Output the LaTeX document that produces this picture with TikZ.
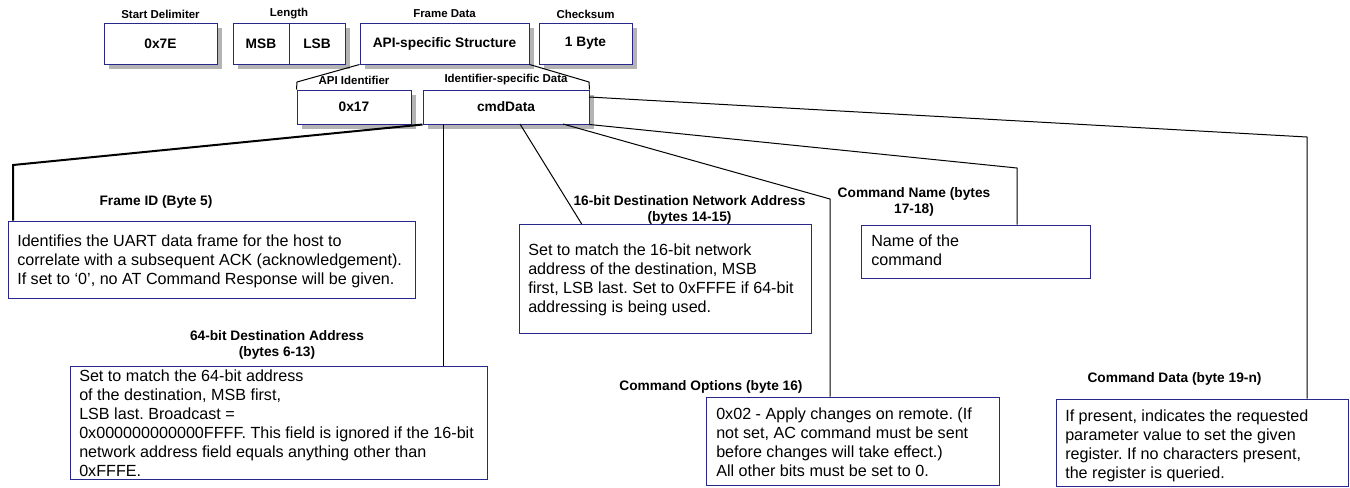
\documentclass[tikz,border=0pt]{standalone}
\usepackage{fontspec}
\setmainfont{Liberation Sans}
\usetikzlibrary{fit}
\definecolor{boxblue}{RGB}{40,40,140}
\definecolor{shadowgray}{RGB}{180,180,180}
\begin{document}
\frenchspacing
\begin{tikzpicture}[x=0.75pt,y=-0.75pt,
  topbox/.style={draw=boxblue, fill=white, line width=0.75pt, inner sep=0pt},
  shadowbox/.style={fill=shadowgray, draw=none, inner sep=0pt},
  boxtext/.style={font=\bfseries\fontsize{10.3}{12}\selectfont, inner sep=0pt},
  toplabel/.style={font=\bfseries\fontsize{8.6}{10}\selectfont, inner sep=0pt},
  desclabel/.style={font=\bfseries\fontsize{10.3}{12}\selectfont, align=center, inner sep=0pt},
  descbox/.style={draw=boxblue, line width=0.75pt, inner sep=0pt},
  desctext/.style={font=\fontsize{12.1}{14.25}\selectfont, align=left, anchor=north west, inner sep=0pt},
  conn/.style={line width=0.75pt},
  thickconn/.style={line width=1.5pt}
]
\useasboundingbox (0,0) rectangle (1350,487);

% shadows of the field boxes (drawn first, boxes cover them)
\node[shadowbox, fit={(109,28) (222,69)}] (sdsh) {};
\node[shadowbox, fit={(238,28) (350,69)}] (lensh) {};
\node[shadowbox, fit={(365,28) (534,69)}] (apish) {};
\node[shadowbox, fit={(544,28) (637,69)}] (cssh) {};
\node[shadowbox, fit={(302,95) (416,129)}] (idsh) {};
\node[shadowbox, fit={(428,95) (594,129)}] (cmdsh) {};

% top row
\node[topbox, fit={(104,23) (217,64)}] (sd) {};
\node[boxtext] (sdt) at (sd.center) {0x7E};
\node[topbox, fit={(233,23) (289,64)}] (msb) {};
\node[topbox, fit={(289,23) (345,64)}] (lsb) {};
\node[boxtext] (msbt) at (msb.center) {MSB};
\node[boxtext] (lsbt) at (lsb.center) {LSB};
\node[topbox, fit={(360,23) (529,64)}] (api) {};
\node[boxtext] (apit) at (api.center) {API-specific Structure};
\node[topbox, fit={(539,23) (632,64)}] (cs) {};
\node[boxtext] (cst) at (cs.center) {1 Byte};

\node[toplabel] (lsd) at (160.5,14) {Start Delimiter};
\node[toplabel] (llen) at (289,14) {Length};
\node[toplabel] (lfd) at (444.5,14) {Frame Data};
\node[toplabel] (lcs) at (585.5,14) {Checksum};

% second row
\node[topbox, fit={(297,90) (411,124)}] (id) {};
\node[boxtext] (idt) at (id.center) {0x17};
\node[topbox, fit={(423,90) (589,124)}] (cmd) {};
\node[boxtext] (cmdt) at (cmd.center) {cmdData};
\node[toplabel] (lid) at (354,80) {API Identifier};
\node[toplabel] (lisd) at (506,80) {Identifier-specific Data};

\coordinate (brl) at (297,82);
\coordinate (brr) at (589,82);
\draw[conn] (api.south west) -- (brl) -- (id.north west);
\draw[conn] (api.south east) -- (brr) -- (cmd.north east);

% description boxes
\node[descbox, fit={(8,221) (415,298)}] (fid) {};
\node[desctext] (fidt) at (17,235) {Identifies the UART data frame for the host to\\correlate with a subsequent ACK (acknowledgement).\\If set to ‘0’, no AT Command Response will be given.};
\node[desclabel] (lfid) at (156,202) {Frame ID (Byte 5)};

\node[descbox, fit={(70,366) (487,479)}] (d64) {};
\node[desctext] (d64t) at (79,370) {Set to match the 64-bit address\\of the destination, MSB first,\\LSB last. Broadcast =\\0x000000000000FFFF. This field is ignored if the 16-bit\\network address field equals anything other than\\0xFFFE.};
\node[desclabel] (l64) at (277,345) {64-bit Destination Address\\(bytes 6-13)};

\node[descbox, fit={(519,224) (811,333)}] (d16) {};
\node[desctext] (d16t) at (528,243.5) {Set to match the 16-bit network\\address of the destination, MSB\\first, LSB last. Set to 0xFFFE if 64-bit\\addressing is being used.};
\node[desclabel] (l16) at (689.5,210) {16-bit Destination Network Address\\(bytes 14-15)};

\node[descbox, fit={(861,225) (1090,278)}] (dname) {};
\node[desctext] (dnamet) at (871,234.5) {Name of the\\command};
\node[desclabel] (lname) at (914,201.5) {Command Name (bytes\\17-18)};

\node[descbox, fit={(706,397) (999,485)}] (dopt) {};
\node[desctext] (doptt) at (716,407.5) {0x02 - Apply changes on remote. (If\\not set, AC command must be sent\\before changes will take effect.)\\All other bits must be set to 0.};
\node[desclabel] (lopt) at (711,387) {Command Options (byte 16)};

\node[descbox, fit={(1056,399) (1348,486)}] (ddata) {};
\node[desctext] (ddatat) at (1065,410) {If present, indicates the requested\\parameter value to set the given\\register. If no characters present,\\the register is queried.};
\node[desclabel] (ldata) at (1174.5,379) {Command Data (byte 19-n)};

% connectors
\coordinate (kfid) at (13,165);
\draw[thickconn] (cmd.south west) -- (kfid) -- (kfid |- fid.north);

\coordinate (s64) at (443,124);
\draw[conn] (s64) -- (s64 |- d64.north);

\coordinate (s16) at (520,124);
\coordinate (e16) at (581.7,224);
\draw[conn] (s16) -- (e16);

\coordinate (sopt) at (563,124);
\coordinate (kopt) at (830,199);
\draw[conn] (sopt) -- (kopt) -- (kopt |- dopt.north);

\coordinate (kname) at (1017,168);
\draw[conn] (cmd.south east) -- (kname) -- (kname |- dname.north);

\coordinate (sdata) at (589,97);
\coordinate (kdata) at (1307,137);
\draw[conn] (sdata) -- (kdata) -- (kdata |- ddata.north);
\end{tikzpicture}
\end{document}
